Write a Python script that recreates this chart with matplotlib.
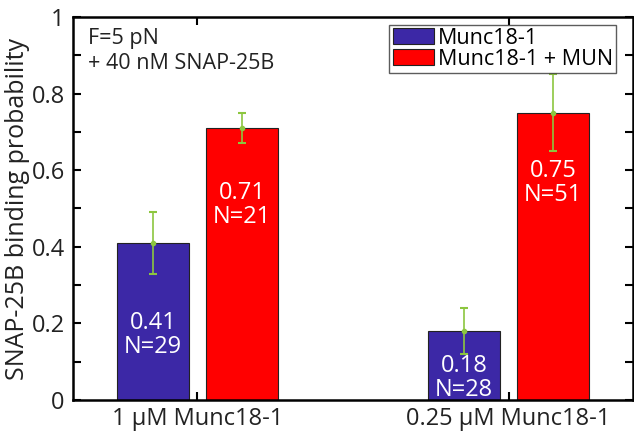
import matplotlib.pyplot as plt
import numpy as np

plt.rcParams['font.family'] = ['Open Sans', 'DejaVu Sans']

groups = ['1 \u03bcM Munc18-1', '0.25 \u03bcM Munc18-1']
series = ['Munc18-1', 'Munc18-1 + MUN']
values = [[0.41, 0.18], [0.71, 0.75]]
errors = [[0.08, 0.06], [0.04, 0.10]]
counts = [[29, 28], [21, 51]]
colors = ['#3c28a6', '#ff0000']
label_y = [[0.17, 0.057], [0.51, 0.566]]

fig = plt.figure(figsize=(6.34, 4.33), dpi=100)
ax = fig.add_axes([73 / 634, 33 / 433, 560 / 634, 383 / 433])

x = np.arange(1, len(groups) + 1)
width = 0.23
offsets = [-0.143, 0.143]
for i in range(len(series)):
    ax.bar(x + offsets[i], values[i], width, color=colors[i], edgecolor='#222222',
           linewidth=0.8, label=series[i], zorder=2)
    ax.errorbar(x + offsets[i], values[i], yerr=errors[i], fmt='o', ms=3,
                color='#8cc63f', ecolor='#8cc63f', elinewidth=1.2, capsize=3,
                capthick=1.5, zorder=3)
    for j in range(len(groups)):
        ax.text(x[j] + offsets[i], label_y[i][j], '%.2f\nN=%d' % (values[i][j], counts[i][j]),
                color='white', ha='center', va='center', fontsize=17, linespacing=1.0,
                zorder=4)

ax.set_xlim(0.6, 2.4)
ax.set_ylim(0, 1)
ax.set_xticks(x)
ax.set_xticklabels(groups, fontsize=17)
ax.set_yticks([0, 0.2, 0.4, 0.6, 0.8, 1])
ax.set_yticklabels(['0', '0.2', '0.4', '0.6', '0.8', '1'], fontsize=17)
ax.set_yticks(np.arange(0.1, 1, 0.2), minor=True)
ax.tick_params(which='both', direction='in', top=True, right=True, width=1.5, length=6,
               colors='black', labelcolor='#222222')
ax.tick_params(axis='x', pad=5)
ax.tick_params(axis='y', pad=6)
for s in ax.spines.values():
    s.set_linewidth(1.8)
ax.set_ylabel('SNAP-25B binding probability', fontsize=18, color='#222222', labelpad=1)

ax.text(0.027, 0.972, 'F=5 pN\n+ 40 nM SNAP-25B', transform=ax.transAxes,
        fontsize=15.5, va='top', ha='left', color='#222222', linespacing=1.25)

leg = ax.legend(loc='upper right', bbox_to_anchor=(0.97, 0.98), fontsize=15.5,
                frameon=True, fancybox=False, edgecolor='#333333',
                handlelength=1.9, handleheight=0.75, handletextpad=0.2,
                borderpad=0.15, labelspacing=0.0, borderaxespad=0.0)
leg.get_frame().set_linewidth(1.0)

fig.savefig('out.png', dpi=100)
